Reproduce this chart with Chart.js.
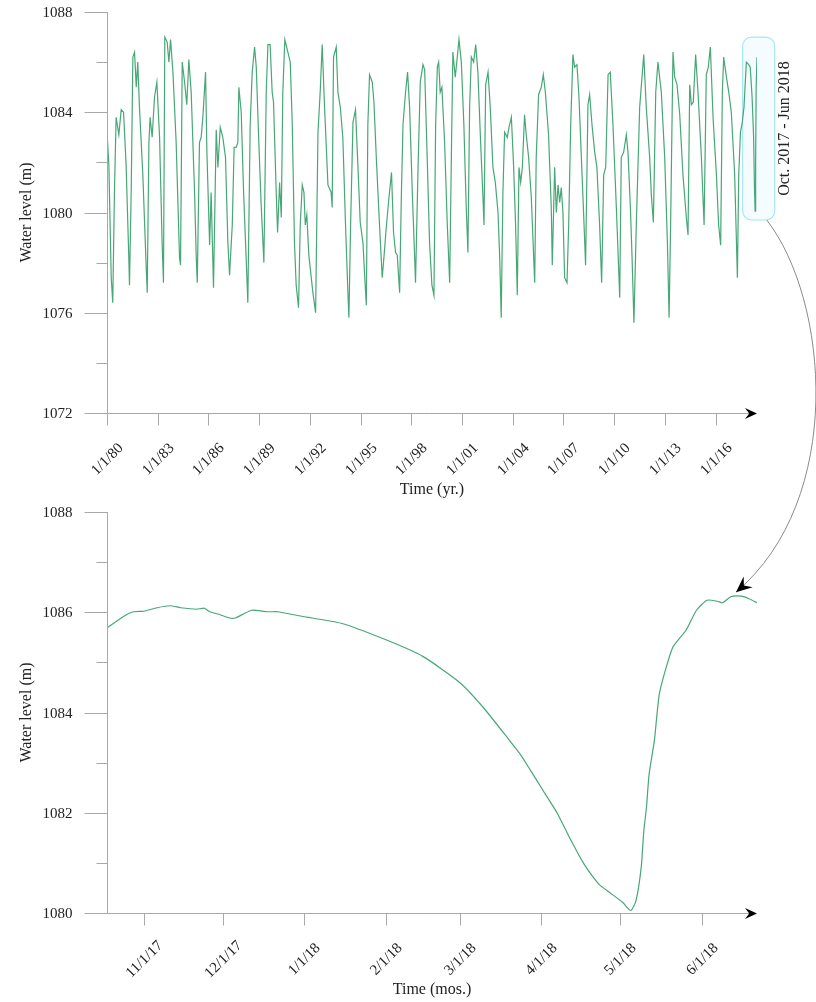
<!DOCTYPE html>
<html lang="en">
<head>
<meta charset="UTF-8">
<title>Water level</title>
<style>
  body { margin: 0; background: #fff; }
  #wrap { position: relative; width: 816px; height: 1002px; }
  #topChart { position: absolute; left: 0; top: 0; }
  #bottomChart { position: absolute; left: 0; top: 500px; }
  #overlay { position: absolute; left: 0; top: 0; pointer-events: none; }
</style>
</head>
<body>
<script src="https://cdn.jsdelivr.net/npm/chart.js"></script>

<div id="wrap">
  <canvas id="topChart" width="816" height="500"></canvas>
  <canvas id="bottomChart" width="816" height="502"></canvas>
  <canvas id="overlay" width="816" height="1002"></canvas>
</div>

<script>
// long record 1980 - 2018 (decimal years)
const topYears = [
  1980.00, 1980.11, 1980.25, 1980.34, 1980.44, 1980.54, 1980.70, 1980.84, 1980.98, 1981.13,
  1981.29, 1981.33, 1981.43, 1981.53, 1981.63, 1981.73, 1981.82, 1981.92, 1982.12, 1982.32,
  1982.38, 1982.48, 1982.55, 1982.67, 1982.81, 1982.95, 1983.11, 1983.26, 1983.34, 1983.42,
  1983.56, 1983.66, 1983.76, 1983.90, 1984.09, 1984.29, 1984.35, 1984.45, 1984.59, 1984.72,
  1984.84, 1984.98, 1985.18, 1985.28, 1985.34, 1985.47, 1985.57, 1985.67, 1985.83, 1985.91,
  1986.07, 1986.16, 1986.30, 1986.46, 1986.56, 1986.70, 1986.85, 1987.01, 1987.15, 1987.25,
  1987.41, 1987.52, 1987.64, 1987.74, 1987.80, 1987.94, 1988.08, 1988.23, 1988.33, 1988.47,
  1988.59, 1988.73, 1988.83, 1988.98, 1989.12, 1989.28, 1989.42, 1989.52, 1989.65, 1989.77,
  1989.85, 1990.01, 1990.09, 1990.21, 1990.31, 1990.40, 1990.52, 1990.70, 1990.84, 1990.96,
  1991.09, 1991.19, 1991.33, 1991.43, 1991.55, 1991.65, 1991.73, 1991.82, 1991.94, 1992.18,
  1992.34, 1992.48, 1992.61, 1992.73, 1992.87, 1993.07, 1993.26, 1993.32, 1993.40, 1993.56,
  1993.66, 1993.80, 1993.95, 1994.11, 1994.25, 1994.31, 1994.41, 1994.55, 1994.70, 1994.84,
  1994.98, 1995.14, 1995.24, 1995.34, 1995.43, 1995.53, 1995.69, 1995.79, 1995.93, 1996.12,
  1996.28, 1996.38, 1996.52, 1996.68, 1996.83, 1996.95, 1997.07, 1997.17, 1997.31, 1997.41,
  1997.51, 1997.66, 1997.78, 1997.90, 1998.06, 1998.20, 1998.25, 1998.39, 1998.53, 1998.69,
  1998.79, 1998.94, 1999.08, 1999.22, 1999.34, 1999.44, 1999.54, 1999.62, 1999.71, 1999.81,
  1999.97, 2000.13, 2000.27, 2000.37, 2000.46, 2000.60, 2000.72, 2000.82, 2000.96, 2001.11,
  2001.25, 2001.35, 2001.45, 2001.55, 2001.69, 2001.81, 2001.94, 2002.10, 2002.24, 2002.30,
  2002.40, 2002.54, 2002.67, 2002.83, 2002.97, 2003.13, 2003.23, 2003.32, 2003.42, 2003.52,
  2003.68, 2003.78, 2003.92, 2004.05, 2004.17, 2004.27, 2004.37, 2004.47, 2004.57, 2004.70,
  2004.80, 2004.94, 2005.10, 2005.30, 2005.39, 2005.53, 2005.69, 2005.81, 2005.93, 2006.12,
  2006.28, 2006.34, 2006.48, 2006.58, 2006.68, 2006.78, 2006.87, 2006.97, 2007.07, 2007.21,
  2007.31, 2007.43, 2007.56, 2007.66, 2007.80, 2007.92, 2008.06, 2008.22, 2008.31, 2008.45,
  2008.55, 2008.69, 2008.85, 2008.98, 2009.14, 2009.26, 2009.38, 2009.50, 2009.64, 2009.77,
  2009.93, 2010.13, 2010.33, 2010.42, 2010.56, 2010.72, 2010.82, 2010.96, 2011.06, 2011.17,
  2011.31, 2011.51, 2011.75, 2011.90, 2012.10, 2012.20, 2012.32, 2012.46, 2012.59, 2012.79,
  2012.99, 2013.15, 2013.25, 2013.34, 2013.48, 2013.58, 2013.72, 2013.88, 2014.07, 2014.27,
  2014.37, 2014.47, 2014.57, 2014.68, 2014.82, 2014.96, 2015.16, 2015.32, 2015.45, 2015.57,
  2015.69, 2015.85, 2016.05, 2016.18, 2016.30, 2016.40, 2016.48, 2016.64, 2016.78, 2016.93,
  2017.13, 2017.29, 2017.37, 2017.47, 2017.58, 2017.68, 2017.82, 2017.96, 2018.05, 2018.16,
  2018.25, 2018.30, 2018.34, 2018.37, 2018.40, 2018.45
];
const topLevels = [
  1083.2, 1081.9, 1077.4, 1076.4, 1080.8, 1083.8, 1083.1, 1084.1, 1084.0, 1081.9,
  1078.2, 1077.1, 1080.8, 1086.2, 1086.4, 1085.0, 1086.0, 1084.2, 1081.5, 1077.8,
  1076.8, 1082.8, 1083.8, 1083.0, 1084.6, 1085.2, 1083.0, 1078.8, 1077.2, 1087.0,
  1086.8, 1086.0, 1086.9, 1085.6, 1082.8, 1078.2, 1077.9, 1086.0, 1085.2, 1084.3,
  1086.1, 1084.8, 1080.8, 1078.2, 1077.2, 1082.8, 1083.0, 1083.8, 1085.6, 1082.4,
  1078.7, 1080.8, 1077.0, 1083.3, 1081.8, 1083.4, 1083.0, 1082.2, 1078.8, 1077.5,
  1079.5, 1082.6, 1082.6, 1082.8, 1085.0, 1084.0, 1080.8, 1078.2, 1076.4, 1083.5,
  1085.6, 1086.6, 1085.8, 1082.8, 1080.3, 1078.0, 1084.8, 1086.7, 1086.7, 1084.8,
  1084.4, 1080.8, 1079.2, 1081.2, 1079.8, 1084.8, 1086.9, 1086.4, 1086.0, 1083.5,
  1078.8, 1077.1, 1076.2, 1079.5, 1081.1, 1080.8, 1079.5, 1079.9, 1078.3, 1076.8,
  1076.0, 1083.2, 1084.8, 1086.7, 1084.2, 1081.1, 1080.8, 1080.2, 1086.2, 1086.6,
  1084.8, 1084.2, 1083.0, 1079.5, 1076.8, 1075.8, 1079.5, 1083.6, 1084.1, 1081.9,
  1079.6, 1078.8, 1077.5, 1076.3, 1083.5, 1085.5, 1085.2, 1084.4, 1082.2, 1079.5,
  1077.4, 1078.2, 1079.4, 1080.6, 1081.6, 1079.2, 1078.4, 1078.3, 1076.8, 1080.6,
  1083.5, 1084.8, 1085.6, 1084.2, 1080.8, 1078.2, 1077.2, 1081.5, 1085.2, 1085.9,
  1085.7, 1082.2, 1078.8, 1077.1, 1076.7, 1083.5, 1085.8, 1086.0, 1084.8, 1085.0,
  1082.8, 1079.5, 1077.2, 1082.2, 1086.4, 1085.4, 1086.2, 1086.9, 1086.0, 1083.5,
  1080.2, 1078.4, 1084.2, 1086.2, 1086.0, 1086.7, 1085.6, 1082.8, 1080.6, 1079.5,
  1085.1, 1085.6, 1084.2, 1081.8, 1081.2, 1080.0, 1078.2, 1075.8, 1080.8, 1083.2,
  1083.0, 1083.4, 1083.8, 1081.9, 1079.5, 1076.7, 1081.8, 1081.2, 1081.8, 1083.9,
  1083.1, 1082.2, 1080.6, 1077.2, 1082.2, 1084.7, 1085.0, 1085.5, 1084.8, 1083.1,
  1080.2, 1077.9, 1081.8, 1080.0, 1081.1, 1080.4, 1081.0, 1080.0, 1077.4, 1077.2,
  1079.5, 1083.5, 1086.3, 1085.8, 1085.9, 1084.6, 1082.2, 1079.5, 1077.9, 1084.3,
  1084.7, 1083.5, 1082.4, 1081.8, 1079.5, 1077.2, 1081.5, 1081.8, 1085.5, 1085.6,
  1083.5, 1080.2, 1076.6, 1082.2, 1082.4, 1083.1, 1082.4, 1080.2, 1078.2, 1075.6,
  1079.5, 1084.2, 1086.3, 1084.2, 1082.2, 1080.7, 1079.6, 1084.8, 1086.0, 1084.8,
  1082.2, 1078.8, 1075.8, 1079.5, 1086.4, 1085.4, 1085.1, 1083.9, 1081.5, 1079.8,
  1079.1, 1085.1, 1084.3, 1084.4, 1086.3, 1084.8, 1082.2, 1079.5, 1085.5, 1085.8,
  1086.6, 1083.8, 1081.5, 1079.5, 1078.7, 1084.8, 1086.2, 1085.4, 1084.8, 1084.0,
  1081.5, 1077.4, 1081.5, 1083.2, 1083.6, 1084.2, 1086.0, 1085.9, 1085.8, 1084.6,
  1083.0, 1081.0, 1080.05, 1082.0, 1085.0, 1086.2
];
const topTickYears = [1980, 1983, 1986, 1989, 1992, 1995, 1998, 2001, 2004, 2007, 2010, 2013, 2016];
const topTickLabels = ['1/1/80', '1/1/83', '1/1/86', '1/1/89', '1/1/92', '1/1/95', '1/1/98',
  '1/1/01', '1/1/04', '1/1/07', '1/1/10', '1/1/13', '1/1/16'];

// Oct. 2017 - Jun 2018
const bottomDates = [
  '2017-10-18', '2017-10-25', '2017-10-28', '2017-11-01', '2017-11-06', '2017-11-11', '2017-11-15',
  '2017-11-21', '2017-11-24', '2017-11-26', '2017-11-30', '2017-12-04', '2017-12-06', '2017-12-09',
  '2017-12-12', '2017-12-18', '2017-12-22', '2017-12-26', '2017-12-31', '2018-01-15', '2018-02-01',
  '2018-02-15', '2018-03-01', '2018-03-10', '2018-03-20', '2018-03-24', '2018-03-28', '2018-04-02',
  '2018-04-07', '2018-04-12', '2018-04-17', '2018-04-23', '2018-04-27', '2018-05-02', '2018-05-05',
  '2018-05-07', '2018-05-09', '2018-05-10', '2018-05-11', '2018-05-12', '2018-05-14', '2018-05-16',
  '2018-05-21', '2018-05-26', '2018-05-30', '2018-06-03', '2018-06-07', '2018-06-09', '2018-06-12',
  '2018-06-16', '2018-06-19', '2018-06-22'
];
const bottomLevels = [
  1085.69, 1085.94, 1086.01, 1086.02, 1086.09, 1086.13, 1086.09,
  1086.06, 1086.08, 1086.01, 1085.95, 1085.88, 1085.89, 1085.97,
  1086.04, 1086.01, 1086.01, 1085.97, 1085.92, 1085.78, 1085.45,
  1085.12, 1084.60, 1084.10, 1083.44, 1083.17, 1082.84, 1082.42,
  1082.00, 1081.48, 1081.00, 1080.57, 1080.41, 1080.21, 1080.05,
  1080.24, 1080.91, 1081.64, 1082.11, 1082.77, 1083.44, 1084.40,
  1085.30, 1085.64, 1086.04, 1086.24, 1086.22, 1086.19, 1086.31,
  1086.32, 1086.27, 1086.19
];
const bottomTickDates = ['2017-11-01', '2017-12-01', '2018-01-01', '2018-02-01',
  '2018-03-01', '2018-04-01', '2018-05-01', '2018-06-01'];
const bottomTickLabels = ['11/1/17', '12/1/17', '1/1/18', '2/1/18', '3/1/18', '4/1/18', '5/1/18', '6/1/18'];

const dayNum = s => Date.parse(s + 'T00:00:00Z') / 864e5;

const FONT = "'Liberation Serif', 'Times New Roman', serif";
const GREEN = '#47a776';
const AXIS = '#a8a8a8';
const TEXT = '#222';

function arrowHead(ctx, x, y, ang, len, half) {
  ctx.save();
  ctx.translate(x, y);
  ctx.rotate(ang);
  ctx.beginPath();
  ctx.moveTo(0, 0);
  ctx.lineTo(-len, -half);
  ctx.lineTo(-len * 0.65, 0);
  ctx.lineTo(-len, half);
  ctx.closePath();
  ctx.fillStyle = '#000';
  ctx.fill();
  ctx.restore();
}

function line(ctx, x1, y1, x2, y2) {
  ctx.beginPath();
  ctx.moveTo(x1, y1);
  ctx.lineTo(x2, y2);
  ctx.stroke();
}

// draws the axes by hand: long/short y ticks, centred 45deg date labels, arrow on x
const axesPlugin = {
  id: 'axes',
  beforeDatasetsDraw(chart, args, opts) {
    if (!opts.box) return;
    const {ctx, scales: {x, y}} = chart;
    const b = opts.box;
    const x0 = x.getPixelForValue(b.x0), x1 = x.getPixelForValue(b.x1);
    const y0 = y.getPixelForValue(b.y0), y1 = y.getPixelForValue(b.y1);
    ctx.save();
    ctx.beginPath();
    ctx.roundRect(x0, y0, x1 - x0, y1 - y0, 9);
    ctx.fillStyle = 'rgba(236, 250, 255, 0.6)';
    ctx.fill();
    ctx.strokeStyle = '#a6e6f8';
    ctx.lineWidth = 1.2;
    ctx.stroke();
    // label beside the box
    ctx.translate(x1 + 10, (y0 + y1) / 2);
    ctx.rotate(-Math.PI / 2);
    ctx.font = '16px ' + FONT;
    ctx.fillStyle = TEXT;
    ctx.textAlign = 'center';
    ctx.textBaseline = 'middle';
    ctx.fillText(b.label, 0, 0);
    ctx.restore();
  },
  afterDraw(chart, args, opts) {
    const {ctx, chartArea: a, scales: {x, y}} = chart;
    ctx.save();
    ctx.strokeStyle = AXIS;
    ctx.lineWidth = 1;
    const left = Math.round(a.left) + 0.5;
    const bottom = Math.round(a.bottom) + 0.5;

    // y axis
    line(ctx, left, a.top, left, bottom);
    ctx.font = '15px ' + FONT;
    ctx.fillStyle = TEXT;
    ctx.textAlign = 'right';
    ctx.textBaseline = 'middle';
    for (let v = y.min; v <= y.max + 1e-6; v += opts.minorStep) {
      const py = Math.round(y.getPixelForValue(v)) + 0.5;
      const major = Math.abs(v % opts.majorStep) < 1e-6;
      line(ctx, left - (major ? 23 : 11), py, left, py);
      if (major) ctx.fillText(String(v), left - 35, py + 1);
    }

    // x axis with arrow
    line(ctx, left, bottom, a.right - 6, bottom);
    arrowHead(ctx, a.right, bottom, 0, 12, 5.5);

    ctx.textAlign = 'center';
    opts.xTicks.forEach((v, i) => {
      const px = Math.round(x.getPixelForValue(v)) + 0.5;
      line(ctx, px, bottom, px, bottom + 12);
      ctx.save();
      ctx.translate(px, bottom + 46);
      ctx.rotate(-Math.PI / 4);
      ctx.fillText(opts.xLabels[i], 0, 0);
      ctx.restore();
    });

    // titles
    ctx.font = '16px ' + FONT;
    ctx.fillText(opts.xTitle, (a.left + a.right) / 2, bottom + 76);
    ctx.save();
    ctx.translate(27, (a.top + a.bottom) / 2);
    ctx.rotate(-Math.PI / 2);
    ctx.fillText(opts.yTitle, 0, 0);
    ctx.restore();
    ctx.restore();
  }
};

function baseOptions(xMin, xMax, yMin, yMax, padBottom, axesOpts) {
  return {
    responsive: false,
    animation: false,
    devicePixelRatio: 1,
    layout: { padding: { left: 107, top: 12, right: 59, bottom: padBottom } },
    scales: {
      x: { type: 'linear', display: false, min: xMin, max: xMax },
      y: { type: 'linear', display: false, min: yMin, max: yMax }
    },
    plugins: {
      legend: { display: false },
      tooltip: { enabled: false },
      axes: axesOpts
    }
  };
}

const topBox = { x0: 2017.6, x1: 2019.5, y0: 1087.0, y1: 1079.7, label: 'Oct. 2017 - Jun 2018' };

let topChart = new Chart(document.getElementById('topChart').getContext('2d'), {
  type: 'line',
  data: {
    datasets: [{
      data: topYears.map((t, i) => ({ x: t, y: topLevels[i] })),
      borderColor: GREEN,
      borderWidth: 1.2,
      pointRadius: 0,
      tension: 0
    }]
  },
  options: baseOptions(1980, 2018.45, 1072, 1088, 87, {
    minorStep: 2, majorStep: 4,
    xTicks: topTickYears, xLabels: topTickLabels,
    xTitle: 'Time (yr.)', yTitle: 'Water level (m)',
    box: topBox
  }),
  plugins: [axesPlugin]
});

let bottomChart = new Chart(document.getElementById('bottomChart').getContext('2d'), {
  type: 'line',
  data: {
    datasets: [{
      data: bottomDates.map((d, i) => ({ x: dayNum(d), y: bottomLevels[i] })),
      borderColor: GREEN,
      borderWidth: 1.2,
      pointRadius: 0,
      tension: 0.2
    }]
  },
  options: baseOptions(dayNum('2017-10-18'), dayNum('2018-06-22'), 1080, 1088, 89, {
    minorStep: 1, majorStep: 2,
    xTicks: bottomTickDates.map(dayNum), xLabels: bottomTickLabels,
    xTitle: 'Time (mos.)', yTitle: 'Water level (m)'
  }),
  plugins: [axesPlugin]
});

// curved pointer from the box in the top chart down to the zoomed chart
(function drawPointer() {
  const ctx = document.getElementById('overlay').getContext('2d');
  const bottomTop = document.getElementById('bottomChart').offsetTop;
  const sx = topChart.scales.x.getPixelForValue(topBox.x1) - 8;
  const sy = topChart.scales.y.getPixelForValue(topBox.y1);
  const ex = bottomChart.scales.x.getPixelForValue(dayNum('2018-06-14'));
  const ey = bottomTop + bottomChart.scales.y.getPixelForValue(1086.4);
  const c1x = sx + 62, c1y = sy + 80;
  const c2x = ex + 110, c2y = ey - 93;
  ctx.strokeStyle = '#8a8a8a';
  ctx.lineWidth = 1;
  ctx.beginPath();
  ctx.moveTo(sx, sy);
  ctx.bezierCurveTo(c1x, c1y, c2x, c2y, ex, ey);
  ctx.stroke();
  arrowHead(ctx, ex, ey, Math.atan2(ey - c2y, ex - c2x), 16, 7);
})();
</script>
</body>
</html>
